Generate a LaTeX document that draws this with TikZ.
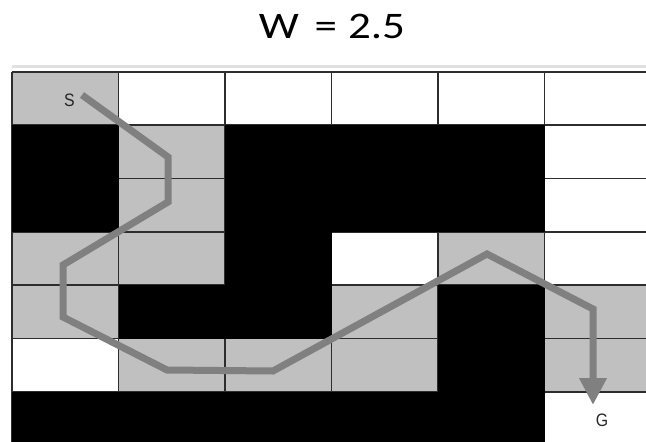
\documentclass[tikz,border=0pt]{standalone}
\usepackage{fontspec}
\setmainfont{Carlito}
\newfontfamily\labelfont{Liberation Sans}
\usetikzlibrary{arrows.meta}
\definecolor{cellgray}{RGB}{192,192,192}
\definecolor{pathgray}{RGB}{128,128,128}
\definecolor{gridline}{RGB}{45,45,45}
\newcommand{\celltext}[1]{\scalebox{0.88}[1]{\labelfont\fontsize{18}{18}\selectfont #1}}
\begin{document}
\begin{tikzpicture}[x=1pt,y=-1pt,
  gridstyle/.style={draw=gridline,line width=1.7pt},
  routestyle/.style={draw=pathgray,line width=7pt,-{Triangle[width=26pt,length=27pt]}},
  celllabel/.style={text=black!85,inner sep=0pt}]
\useasboundingbox (0,0) rectangle (646,442);
\begin{scope}
\clip (0,0) rectangle (646,442);
% light band above the grid
\draw[black!12,line width=3pt] (12,66) -- (646,66);
% gray cells
\foreach \r/\c in {0/0,1/1,2/1,3/0,3/1,3/4,4/0,4/3,4/5,5/1,5/2,5/3,5/5}
  \fill[cellgray] (12+\c*106.5,72+\r*53.3) rectangle ++(106.5,53.3);
% grid lines
\foreach \r in {0,...,6}
  \draw[gridstyle] (12,72+\r*53.3) -- (646,72+\r*53.3);
\foreach \c in {0,...,5}
  \draw[gridstyle] (12+\c*106.5,72) -- (12+\c*106.5,442);
% black cells
\foreach \r/\c in {1/0,2/0,1/2,1/3,1/4,2/2,2/3,2/4,3/2,4/1,4/2,4/4,5/4,6/0,6/1,6/2,6/3,6/4}
  \fill[black] (12+\c*106.5,72+\r*53.3) rectangle ++(106.5,53.3);
\end{scope}
% title
\node[inner sep=0pt] (title) at (332,26) {\scalebox{1.2}[1]{\fontsize{37.5}{37.5}\selectfont W\hspace{0.12em} = \hspace{0.02em}2.5}};
% labels
\node[celllabel] (S) at (69.5,100) {\celltext{S}};
\node[celllabel] (G) at (602,420) {\celltext{G}};
% route
\coordinate (p0) at (82,95);
\coordinate (p1) at (168,157);
\coordinate (p2) at (168,202);
\coordinate (p3) at (63,265);
\coordinate (p4) at (63,317);
\coordinate (p5) at (167,370);
\coordinate (p6) at (273,371);
\coordinate (p7) at (487,254);
\coordinate (p8) at (593,309);
\coordinate (p9) at (593,405);
\draw[routestyle] (p0) -- (p1) -- (p2) -- (p3) -- (p4) -- (p5) -- (p6) -- (p7) -- (p8) -- (p9);
\end{tikzpicture}
\end{document}
